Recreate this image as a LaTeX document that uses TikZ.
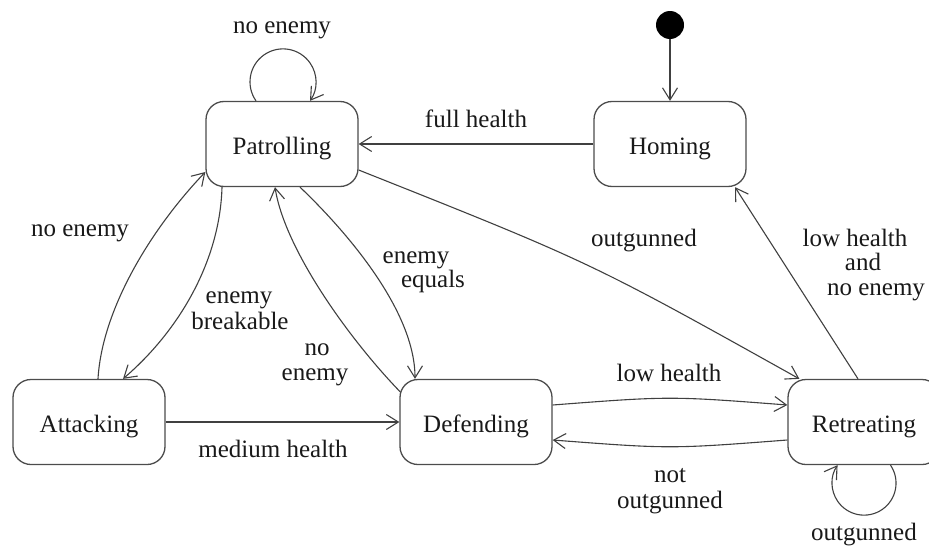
\documentclass[tikz,border=0pt]{standalone}
\usepackage{fontspec}
\setmainfont{Liberation Serif}
\usetikzlibrary{arrows.meta,calc}
\begin{document}
\begin{tikzpicture}[x=1pt,y=-1pt,
  font=\fontsize{25}{25}\selectfont,
  state/.style={draw=black!70, line width=1.3pt, rounded corners=18pt,
    minimum width=152pt, minimum height=85pt, inner sep=0pt,
    text height=24pt, text depth=4pt, text=black!90},
  edge/.style={draw=black!75, line width=1.1pt,
    -{Straight Barb[length=12pt,width=15pt,line width=1.1pt]}},
  lbl/.style={anchor=base, inner sep=0pt, text=black!90},
]
\useasboundingbox (0,0) rectangle (929,546);

% states
\node[state] (P) at (282,144) {Patrolling};
\node[state] (H) at (670,144) {Homing};
\node[state] (A) at (89,422) {Attacking};
\node[state] (D) at (476,422) {Defending};
\node[state] (R) at (864,422) {Retreating};
\node[circle, fill=black, minimum size=28pt, inner sep=0pt] (init) at (670,25) {};

% transitions
\draw[edge] (init) -- (H);
\draw[edge] ($(P.north)+(-26,0)$) arc[start angle=144.9, end angle=395.1, radius=33];
\draw[edge] (H) -- (P);
\draw[edge] ($(P.east)+(0,26)$) .. controls (590,262) .. ($(R.north west)+(12,0)$);
\draw[edge] ($(R.north)+(-6,0)$) -- ($(H.south)+(65,0)$);
\draw[edge] ($(A.north)+(9,0)$) .. controls (102,310) and (150,230) .. ($(P.west)+(0,28)$);
\draw[edge] ($(P.south)+(-60,0)$) .. controls (220,260) and (180,330) .. ($(A.north)+(34,0)$);
\draw[edge] ($(D.west)+(1,-30)$) .. controls (350,340) and (285,250) .. ($(P.south)+(-7,0)$);
\draw[edge] ($(P.south)+(18,0)$) .. controls (345,230) and (415,310) .. ($(D.north)+(-61,0)$);
\draw[edge] (A) -- (D);
\draw[edge] ($(D.east)+(0,-17)$) .. controls (670,396) .. ($(R.west)+(0,-17)$);
\draw[edge] ($(R.west)+(0,18)$) .. controls (670,449) .. ($(D.east)+(0,18)$);
\draw[edge] ($(R.south)+(26.5,0)$) arc[start angle=-34.2, end angle=214.2, radius=32];

% guards, one node per text line
\node[lbl] (lPP) at (282,33) {no enemy};
\node[lbl] (lHP) at (476,127) {full health};
\node[lbl] (lPR) at (644,246) {outgunned};
\node[lbl] (lRHa) at (855,246) {low health};
\node[lbl] (lRHb) at (863,270) {and};
\node[lbl] (lRHc) at (876,295) {no enemy};
\node[lbl] (lAP) at (80,236) {no enemy};
\node[lbl] (lPAa) at (239,303) {enemy};
\node[lbl] (lPAb) at (240,329) {breakable};
\node[lbl] (lDPa) at (317,355) {no};
\node[lbl] (lDPb) at (315,380) {enemy};
\node[lbl] (lPDa) at (416,263) {enemy};
\node[lbl] (lPDb) at (433,287) {equals};
\node[lbl] (lAD) at (273,457) {medium health};
\node[lbl] (lDR) at (669,381) {low health};
\node[lbl] (lRDa) at (670,482) {not};
\node[lbl] (lRDb) at (670,508) {outgunned};
\node[lbl] (lRR) at (864,540) {outgunned};
\end{tikzpicture}
\end{document}
